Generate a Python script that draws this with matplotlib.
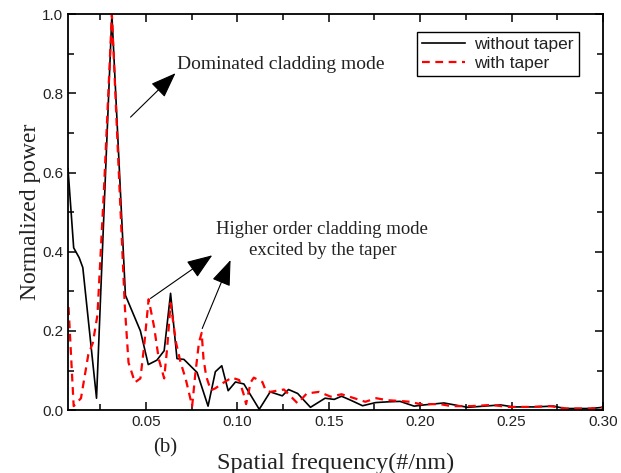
import matplotlib
matplotlib.use("Agg")
import matplotlib.pyplot as plt
from matplotlib.ticker import MultipleLocator

# spectra (spatial frequency in #/nm, normalized power)
freq_no_taper = [0.0074, 0.0105, 0.0135, 0.0155, 0.023, 0.0314, 0.0388, 0.047, 0.0513,
                 0.056, 0.06, 0.0635, 0.067, 0.0708, 0.078, 0.084, 0.088, 0.0915, 0.095,
                 0.099, 0.1036, 0.112, 0.118, 0.1246, 0.128, 0.133, 0.140, 0.148, 0.153,
                 0.157, 0.162, 0.1685, 0.1757, 0.183, 0.189, 0.1967, 0.202, 0.213, 0.226,
                 0.235, 0.244, 0.251, 0.262, 0.273, 0.279, 0.293, 0.300]
power_no_taper = [0.61, 0.41, 0.385, 0.36, 0.03, 1.0, 0.29, 0.2, 0.115,
                  0.126, 0.15, 0.295, 0.13, 0.128, 0.095, 0.01, 0.097, 0.112, 0.049,
                  0.071, 0.066, 0.002, 0.046, 0.036, 0.052, 0.042, 0.007, 0.03, 0.027,
                  0.035, 0.025, 0.011, 0.019, 0.021, 0.022, 0.01, 0.013, 0.018, 0.007,
                  0.01, 0.013, 0.008, 0.008, 0.01, 0.004, 0.004, 0.007]

freq_taper = [0.0077, 0.0105, 0.0145, 0.0185, 0.021, 0.0235, 0.027, 0.0314, 0.035,
              0.0385, 0.0405, 0.044, 0.047, 0.049, 0.0515, 0.0545, 0.057, 0.060,
              0.0617, 0.0635, 0.0665, 0.069, 0.0717, 0.0753, 0.077, 0.079, 0.0805,
              0.0815, 0.083, 0.0855, 0.088, 0.092, 0.097, 0.101, 0.1036, 0.1048,
              0.1073, 0.109, 0.1137, 0.1155, 0.118, 0.1255, 0.133, 0.138, 0.1447,
              0.151, 0.157, 0.164, 0.170, 0.176, 0.182, 0.189, 0.1945, 0.200, 0.211,
              0.217, 0.228, 0.239, 0.248, 0.260, 0.271, 0.280, 0.293, 0.300]
power_taper = [0.26, 0.01, 0.03, 0.14, 0.17, 0.24, 0.55, 1.0, 0.62,
               0.26, 0.12, 0.07, 0.08, 0.16, 0.28, 0.21, 0.13, 0.08,
               0.16, 0.27, 0.17, 0.12, 0.08, 0.01, 0.09, 0.17, 0.195,
               0.13, 0.085, 0.05, 0.055, 0.068, 0.082, 0.076, 0.038, 0.015,
               0.07, 0.082, 0.071, 0.05, 0.046, 0.052, 0.017, 0.042, 0.046,
               0.034, 0.04, 0.03, 0.021, 0.03, 0.025, 0.023, 0.021, 0.015, 0.015,
               0.01, 0.01, 0.013, 0.008, 0.008, 0.01, 0.004, 0.004, 0.007]

serif = ["Liberation Serif", "DejaVu Serif"]
sans = ["Liberation Sans", "DejaVu Sans"]
txt = "#222222"

fig = plt.figure(figsize=(6.21, 4.73), dpi=100)
ax = fig.add_axes([0.1095, 0.133, 0.8615, 0.837])

ax.plot(freq_no_taper, power_no_taper, color="black", lw=1.2, label="without taper")
ax.plot(freq_taper, power_taper, color="red", lw=1.6, ls=(0, (3.5, 2.5)), label="with taper")

ax.set_xlim(0.0074, 0.30)
ax.set_ylim(0, 1.0)
ax.xaxis.set_major_locator(MultipleLocator(0.05))
ax.xaxis.set_minor_locator(MultipleLocator(0.025))
ax.yaxis.set_major_locator(MultipleLocator(0.2))
ax.yaxis.set_minor_locator(MultipleLocator(0.1))
ax.tick_params(which="both", direction="in", top=True, right=True, width=1.1,
               labelcolor=txt)
ax.tick_params(which="major", length=6)
ax.tick_params(which="minor", length=4)
for lab in ax.get_xticklabels() + ax.get_yticklabels():
    lab.set_family(sans)
    lab.set_fontsize(11)
ax.xaxis.set_major_formatter(plt.FuncFormatter(lambda v, p: "%.2f" % v))
ax.yaxis.set_major_formatter(plt.FuncFormatter(lambda v, p: "%.1f" % v))
for s in ax.spines.values():
    s.set_linewidth(1.3)

ax.set_xlabel("Spatial frequency(#/nm)", family=serif, fontsize=17.5, labelpad=17,
              color=txt)
ax.set_ylabel("Normalized power", family=serif, fontsize=17, labelpad=1, color=txt)

leg = ax.legend(loc="upper left", bbox_to_anchor=(0.652, 0.955), fancybox=False,
                edgecolor="black", framealpha=1, prop={"family": sans, "size": 12.5},
                handlelength=2.5, borderpad=0.3, labelspacing=0.2, handletextpad=0.5,
                borderaxespad=0)
leg.get_frame().set_linewidth(1.0)
for t in leg.get_texts():
    t.set_color(txt)

arrow = dict(arrowstyle="-|>,head_length=0.8,head_width=0.3", color="black",
             lw=0.8, mutation_scale=20, shrinkA=0, shrinkB=0)
ax.text(0.1237, 0.874, "Dominated cladding mode", family=serif, fontsize=14,
        ha="center", va="center", color=txt)
ax.annotate("", xy=(0.0662, 0.851), xytext=(0.0416, 0.74), arrowprops=arrow)

ax.text(0.1465, 0.43, "Higher order cladding mode\nexcited by the taper", family=serif,
        fontsize=13.5, ha="center", va="center", linespacing=1.3, color=txt)
ax.annotate("", xy=(0.0863, 0.391), xytext=(0.0525, 0.282), arrowprops=arrow)
ax.annotate("", xy=(0.0963, 0.379), xytext=(0.0808, 0.206), arrowprops=arrow)

ax.text(0.0607, -0.096, "(b)", family=serif, fontsize=15, ha="center", va="center",
        color=txt)

fig.savefig("out.png", dpi=100)
